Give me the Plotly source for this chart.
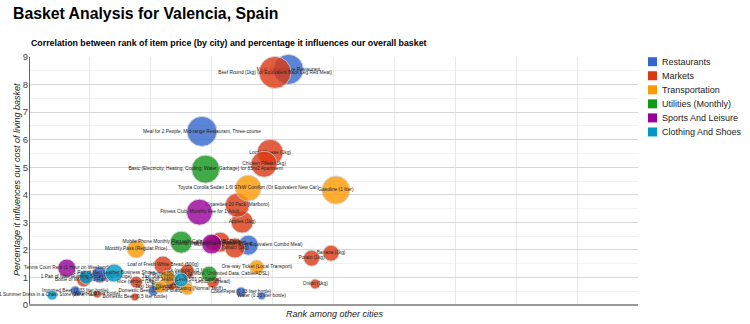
import plotly.graph_objects as go

# ---- data -------------------------------------------------------------
categories = ["Restaurants", "Markets", "Transportation", "Utilities (Monthly)",
              "Sports And Leisure", "Clothing And Shoes"]
category_colors = ["#3366cc", "#dc3912", "#ff9900", "#109618", "#990099", "#0099c6"]

items = [
    # Restaurants
    "Meal, Inexpensive Restaurant",
    "Meal for 2 People, Mid-range Restaurant, Three-course",
    "McMeal at McDonalds (or Equivalent Combo Meal)",
    "Domestic Beer (0.5 liter draught)",
    "Imported Beer (0.33 liter bottle)",
    "Cappuccino (regular)",
    "Coke/Pepsi (0.33 liter bottle)",
    "Water (0.33 liter bottle)",
    # Markets
    "Milk (regular), (1 liter)",
    "Loaf of Fresh White Bread (500g)",
    "Rice (white), (1kg)",
    "Eggs (regular) (12)",
    "Local Cheese (1kg)",
    "Chicken Fillets (1kg)",
    "Beef Round (1kg) (or Equivalent Back Leg Red Meat)",
    "Apples (1kg)",
    "Banana (1kg)",
    "Oranges (1kg)",
    "Tomato (1kg)",
    "Potato (1kg)",
    "Onion (1kg)",
    "Lettuce (1 head)",
    "Water (1.5 liter bottle)",
    "Bottle of Wine (Mid-Range)",
    "Domestic Beer (0.5 liter bottle)",
    "Imported Beer (0.33 liter bottle)",
    "Cigarettes 20 Pack (Marlboro)",
    # Transportation
    "One-way Ticket (Local Transport)",
    "Monthly Pass (Regular Price)",
    "Taxi Start (Normal Tariff)",
    "Taxi 1km (Normal Tariff)",
    "Taxi 1hour Waiting (Normal Tariff)",
    "Gasoline (1 liter)",
    "Toyota Corolla Sedan 1.6l 97kW Comfort (Or Equivalent New Car)",
    # Utilities (Monthly)
    "Basic (Electricity, Heating, Cooling, Water, Garbage) for 85m2 Apartment",
    "Mobile Phone Monthly Plan with Calls and 10GB+ Data",
    "Internet (60 Mbps or More, Unlimited Data, Cable/ADSL)",
    # Sports And Leisure
    "Fitness Club, Monthly Fee for 1 Adult",
    "Tennis Court Rent (1 Hour on Weekend)",
    "Cinema, International Release, 1 Seat",
    # Clothing And Shoes
    "1 Pair of Jeans (Levis 501 Or Similar)",
    "1 Summer Dress in a Chain Store (Zara, H&M, ...)",
    "1 Pair of Nike Running Shoes (Mid-Range)",
    "1 Pair of Men Leather Business Shoes",
]

item_category = (["Restaurants"] * 8 + ["Markets"] * 19 + ["Transportation"] * 7
                 + ["Utilities (Monthly)"] * 3 + ["Sports And Leisure"] * 3
                 + ["Clothing And Shoes"] * 4)

# rank of the item price among other cities
rank = [213, 142, 180, 102, 38, 58, 174, 191,
        130, 110, 88, 117, 198, 193, 202, 175, 248, 157, 169, 232, 235, 151, 56, 45, 87, 151, 171,
        187, 88, 114, 108, 130, 252, 180,
        145, 125, 148,
        140, 31, 150,
        125, 19, 47, 70]

# percentage the item influences the overall basket
influence = [8.55, 6.30, 2.17, 0.51, 0.51, 1.09, 0.47, 0.33,
             1.23, 1.45, 0.83, 0.76, 5.54, 5.11, 8.44, 3.01, 1.88, 2.28, 2.07, 1.70, 0.76, 0.83, 0.40, 0.91, 0.29, 2.25, 3.62,
             1.38, 2.03, 1.01, 0.65, 0.58, 4.17, 4.24,
             4.93, 2.28, 1.12,
             3.37, 1.34, 2.21,
             0.91, 0.36, 1.01, 1.16]

# bubble weight (third dimension of the chart)
weight = [1.5, 1.5, 1.0, 0.5, 0.5, 0.8, 0.5, 0.4,
          0.7, 0.9, 0.6, 0.6, 1.3, 1.3, 1.6, 1.1, 0.8, 1.0, 1.0, 0.8, 0.5, 0.6, 0.4, 0.7, 0.4, 0.8, 1.2,
          0.7, 0.9, 0.7, 0.6, 0.6, 1.4, 1.3,
          1.4, 1.1, 0.8,
          1.3, 0.9, 1.0,
          0.7, 0.5, 0.7, 0.9]

# ---- layout geometry --------------------------------------------------
W, H = 750, 324
M_L, M_R, M_T, M_B = 29, 112, 57, 19
PW, PH = W - M_L - M_R, H - M_T - M_B
FONT = "Liberation Sans, Arial, sans-serif"


def px_x(p):
    return (p - M_L) / PW


def px_y(p):
    return (H - M_B - p) / PH


color_of = dict(zip(categories, category_colors))

fig = go.Figure()

# one trace per bubble so each label sits under the bubbles drawn after it
for name, cat, xv, yv, wv in zip(items, item_category, rank, influence, weight):
    fig.add_trace(go.Scatter(
        x=[xv], y=[yv], mode="markers+text", text=[name],
        textposition="middle center",
        textfont=dict(family=FONT, size=4.8, color="#222222"),
        marker=dict(size=wv * 20, color=color_of[cat], opacity=0.8,
                    line=dict(color="#cccccc", width=1)),
        showlegend=False, hoverinfo="text", cliponaxis=False,
    ))

# legend drawn as coloured squares with labels
shapes, annotations = [], []
for i, (cat, col) in enumerate(zip(categories, category_colors)):
    cy = 61.7 + i * 14.05
    shapes.append(dict(type="rect", xref="paper", yref="paper",
                       x0=px_x(648), x1=px_x(657), y0=px_y(cy + 4.5), y1=px_y(cy - 4.5),
                       fillcolor=col, line=dict(width=0)))
    annotations.append(dict(text=cat, xref="paper", yref="paper", x=px_x(660), y=px_y(cy),
                            xanchor="left", yanchor="middle", showarrow=False,
                            font=dict(family=FONT, size=9, color="#222222")))

annotations += [
    dict(text="<b>Basket Analysis for Valencia, Spain</b>", xref="paper", yref="paper",
         x=px_x(11), y=px_y(13.7), xanchor="left", yanchor="middle", showarrow=False,
         font=dict(family=FONT, size=15.8, color="#000000")),
    dict(text="<b>Correlation between rank of item price (by city) and percentage it influences our overall basket</b>",
         xref="paper", yref="paper", x=px_x(29), y=px_y(42.5), xanchor="left", yanchor="middle",
         showarrow=False, font=dict(family=FONT, size=8.8, color="#000000")),
    dict(text="<i>Rank among other cities</i>", xref="paper", yref="paper",
         x=px_x(334.5), y=px_y(314), xanchor="center", yanchor="middle", showarrow=False,
         font=dict(family=FONT, size=9, color="#222222")),
    dict(text="<i>Percentage it influences our cost of living basket</i>", xref="paper", yref="paper",
         x=px_x(17), y=px_y(180), xanchor="center", yanchor="middle", textangle=-90,
         showarrow=False, font=dict(family=FONT, size=9, color="#222222")),
]

fig.update_layout(
    width=W, height=H,
    margin=dict(l=M_L, r=M_R, t=M_T, b=M_B, pad=0),
    paper_bgcolor="white", plot_bgcolor="white",
    shapes=shapes, annotations=annotations,
    showlegend=False,
    xaxis=dict(range=[0, 500], dtick=50, showticklabels=False, ticks="",
               showgrid=True, gridcolor="#e8e8e8", gridwidth=1,
               zeroline=True, zerolinecolor="#666666", zerolinewidth=1,
               showline=False, fixedrange=True),
    yaxis=dict(range=[0, 9], dtick=1, ticks="", showgrid=True,
               gridcolor="#d8d8d8", gridwidth=1,
               minor=dict(dtick=0.5, showgrid=True, gridcolor="#f2f2f2"),
               zeroline=True, zerolinecolor="#999999", zerolinewidth=1.5,
               tickfont=dict(family=FONT, size=9.5, color="#444444"),
               showline=False, fixedrange=True),
)

fig.write_html("out.html")
